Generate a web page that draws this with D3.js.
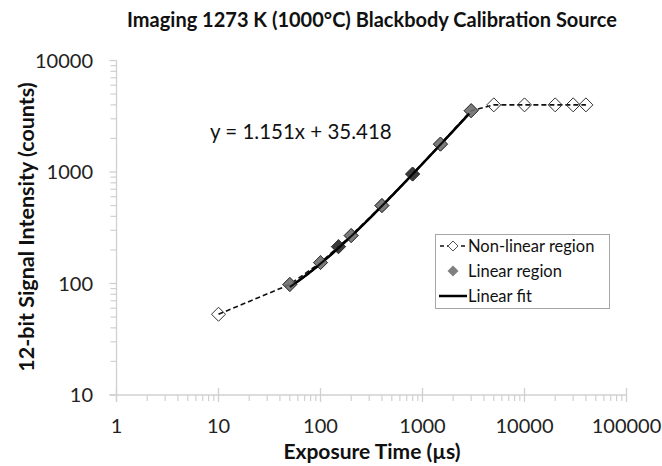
<!DOCTYPE html>
<html>
<head>
<meta charset="utf-8">
<script src="https://cdn.jsdelivr.net/npm/d3@7"></script>
<style>
  html, body { margin: 0; padding: 0; background: #fff; }
  svg { display: block; font-family: Lato, "Open Sans", sans-serif; }
</style>
</head>
<body>
<svg id="chart" width="662" height="466"></svg>
<script>
// ---- data ----
const titleText = "Imaging 1273 K (1000°C) Blackbody Calibration Source";
const xTitle = "Exposure Time (µs)";
const yTitle = "12-bit Signal Intensity (counts)";
const xTickValues = [1, 10, 100, 1000, 10000, 100000];
const yTickValues = [10, 100, 1000, 10000];
const allExposure = [10, 50, 100, 150, 200, 400, 800, 1500, 3000, 5000, 10000, 20000, 30000, 40000];
const allSignal   = [53, 98, 154, 214, 269, 500, 958, 1778, 3545, 4000, 4000, 4000, 4000, 4000];
const linearExposure = [50, 100, 150, 200, 400, 800, 1500, 3000];
const linearSignal   = [98, 154, 214, 269, 500, 958, 1778, 3545];
const fitSlope = 1.151;
const fitIntercept = 35.418;
const legendLabels = ["Non-linear region", "Linear region", "Linear fit"];

// ---- chart ----
const svg = d3.select("#chart");
const x = d3.scaleLog().domain([1, 100000]).range([116.5, 626.5]);
const y = d3.scaleLog().domain([10, 10000]).range([395, 60.5]);
const axisColor = "#d0d0d0";

// title
svg.append("text").attr("x", 372).attr("y", 27).attr("text-anchor", "middle")
  .attr("font-size", 20).attr("font-weight", "bold").attr("fill", "#111").text(titleText);

// minor tick values
function minors(domain) {
  const out = [];
  for (let d = domain[0]; d < domain[1]; d *= 10) {
    for (let k = 2; k <= 9; k++) out.push(d * k);
  }
  return out;
}

// y axis
const gy = svg.append("g");
gy.append("line").attr("x1", x(1)).attr("x2", x(1)).attr("y1", y(10000)).attr("y2", y(10) + 7)
  .attr("stroke", axisColor).attr("stroke-width", 1.3);
gy.selectAll(".ymin").data(minors([10, 10000])).join("line")
  .attr("x1", x(1) - 6).attr("x2", x(1)).attr("y1", d => y(d)).attr("y2", d => y(d))
  .attr("stroke", axisColor).attr("stroke-width", 1.2);
gy.selectAll(".ymaj").data(yTickValues).join("line")
  .attr("x1", x(1) - 7).attr("x2", x(1)).attr("y1", d => y(d)).attr("y2", d => y(d))
  .attr("stroke", axisColor).attr("stroke-width", 1.3);
gy.selectAll("text").data(yTickValues).join("text")
  .attr("x", 93).attr("y", d => y(d)).attr("dy", "0.35em").attr("text-anchor", "end")
  .attr("font-size", 20).attr("fill", "#222").text(d => d);

// x axis
const gx = svg.append("g");
gx.append("line").attr("x1", x(1) - 7).attr("x2", x(100000)).attr("y1", y(10)).attr("y2", y(10))
  .attr("stroke", axisColor).attr("stroke-width", 1.3);
gx.selectAll(".xmin").data(minors([1, 100000])).join("line")
  .attr("x1", d => x(d)).attr("x2", d => x(d)).attr("y1", y(10)).attr("y2", y(10) + 6)
  .attr("stroke", axisColor).attr("stroke-width", 1.2);
gx.selectAll(".xmaj").data(xTickValues).join("line")
  .attr("x1", d => x(d)).attr("x2", d => x(d)).attr("y1", y(10) - 7).attr("y2", y(10) + 7)
  .attr("stroke", axisColor).attr("stroke-width", 1.3);
gx.selectAll("text").data(xTickValues).join("text")
  .attr("x", d => x(d)).attr("y", 426).attr("dy", "0.35em").attr("text-anchor", "middle")
  .attr("font-size", 20).attr("fill", "#222").text(d => d);

// axis titles
svg.append("text").attr("x", 372).attr("y", 452).attr("dy", "0.35em").attr("text-anchor", "middle")
  .attr("font-size", 21).attr("font-weight", "bold").attr("fill", "#111").text(xTitle);
svg.append("text").attr("transform", "translate(26,227) rotate(-90)").attr("dy", "0.35em")
  .attr("text-anchor", "middle").attr("font-size", 21.5).attr("font-weight", "bold")
  .attr("fill", "#111").text(yTitle);

function diamondPath(r) {
  return `M0,${-r}L${r},0L0,${r}L${-r},0Z`;
}

// non-linear series (dashed + open diamonds)
const allPts = allExposure.map((e, i) => [e, allSignal[i]]);
svg.append("path").datum(allPts)
  .attr("d", d3.line().x(d => x(d[0])).y(d => y(d[1])))
  .attr("fill", "none").attr("stroke", "#111").attr("stroke-width", 1.6).attr("stroke-dasharray", "5,3");
svg.selectAll(".open").data(allPts).join("path")
  .attr("transform", d => `translate(${x(d[0])},${y(d[1])})`)
  .attr("d", diamondPath(7)).attr("fill", "none").attr("stroke", "#333").attr("stroke-width", 1);

// linear fit (trendline from the displayed coefficients)
const fitXs = d3.range(Math.log10(linearExposure[0]), Math.log10(linearExposure[linearExposure.length - 1]) + 1e-9, 0.02)
  .map(v => Math.pow(10, v));
const fitLine = d3.line().x(d => x(d)).y(d => y(fitSlope * d + fitIntercept));
svg.append("path").datum(fitXs).attr("d", fitLine)
  .attr("fill", "none").attr("stroke", "#000").attr("stroke-width", 2.5);

// linear region markers
const linPts = linearExposure.map((e, i) => [e, linearSignal[i]]);
const darkSet = new Set([150, 800]);
svg.selectAll(".lin").data(linPts).join("path")
  .attr("transform", d => `translate(${x(d[0])},${y(d[1])})`)
  .attr("d", diamondPath(7))
  .attr("fill", d => darkSet.has(d[0]) ? "#262626" : "#6e6e6e")
  .attr("fill-opacity", 0.9)
  .attr("stroke", "#3a3a3a").attr("stroke-width", 1);
svg.append("path").datum(fitXs).attr("d", fitLine)
  .attr("fill", "none").attr("stroke", "#000").attr("stroke-width", 2).attr("stroke-opacity", 0.85);

// equation
svg.append("text").attr("x", 210).attr("y", 132).attr("dy", "0.35em")
  .attr("font-size", 20.5).attr("fill", "#111")
  .text(`y = ${fitSlope}x + ${fitIntercept}`);

// legend
const lg = svg.append("g");
lg.append("rect").attr("x", 435.5).attr("y", 234.5).attr("width", 174).attr("height", 74)
  .attr("fill", "#fff").attr("stroke", "#a6a6a6").attr("stroke-width", 1);
const rows = [246, 271, 296];
lg.append("line").attr("x1", 440).attr("x2", 466).attr("y1", rows[0]).attr("y2", rows[0])
  .attr("stroke", "#111").attr("stroke-width", 1.6).attr("stroke-dasharray", "4,3");
lg.append("path").attr("transform", `translate(453,${rows[0]})`).attr("d", diamondPath(5))
  .attr("fill", "#fff").attr("stroke", "#555").attr("stroke-width", 1);
lg.append("path").attr("transform", `translate(453,${rows[1]})`).attr("d", diamondPath(5.5))
  .attr("fill", "#808080");
lg.append("line").attr("x1", 439).attr("x2", 467).attr("y1", rows[2]).attr("y2", rows[2])
  .attr("stroke", "#000").attr("stroke-width", 2.5);
lg.selectAll("text").data(legendLabels).join("text")
  .attr("x", 468).attr("y", (d, i) => rows[i]).attr("dy", "0.35em")
  .attr("font-size", 16.5).attr("fill", "#111").text(d => d);
</script>
</body>
</html>
